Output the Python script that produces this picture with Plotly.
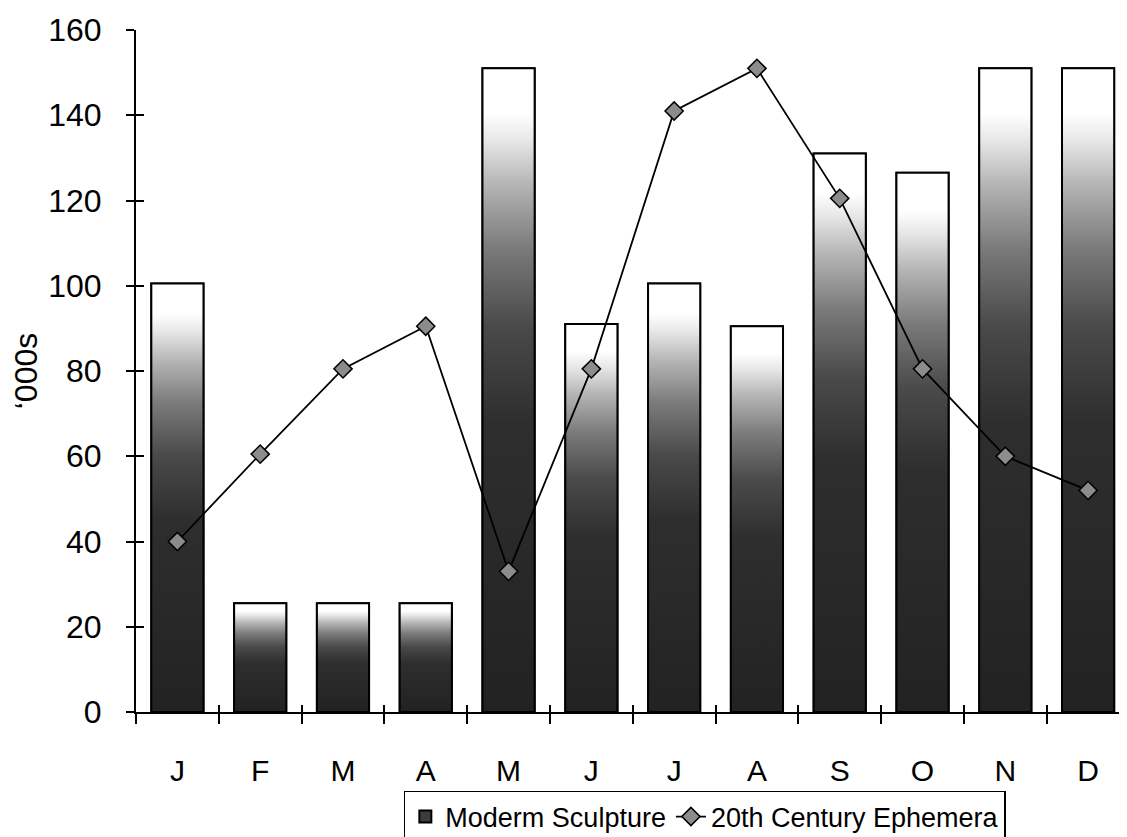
import plotly.graph_objects as go

months = ["J", "F", "M", "A", "M", "J", "J", "A", "S", "O", "N", "D"]
sculpture = [100.5, 25.5, 25.5, 25.5, 151, 91, 100.5, 90.5, 131, 126.5, 151, 151]
ephemera = [40, 60.5, 80.5, 90.5, 33, 80.5, 141, 151, 120.5, 80.5, 60, 52]
y_ticks = [0, 20, 40, 60, 80, 100, 120, 140, 160]

xpos = list(range(len(months)))
BAR_W = 0.63
FONT = "Liberation Sans, Arial, sans-serif"
grad = [[0.0, "#222222"], [0.45, "#2e2e2e"], [0.6, "#4a4a4a"], [0.72, "#7a7a7a"],
        [0.82, "#b5b5b5"], [0.89, "#e8e8e8"], [0.93, "#ffffff"], [1.0, "#ffffff"]]

fig = go.Figure()

# legend / base bar trace
fig.add_trace(go.Bar(
    x=xpos, y=sculpture, width=BAR_W, name="Moderm Sculpture",
    marker=dict(color="#3c3c3c", line=dict(color="black", width=2)),
))

# gradient overlay per bar
for xi, v in zip(xpos, sculpture):
    h = BAR_W / 2
    fig.add_trace(go.Scatter(
        x=[xi - h, xi + h, xi + h, xi - h, xi - h],
        y=[0, 0, v, v, 0],
        mode="lines", fill="toself",
        fillgradient=dict(type="vertical", colorscale=grad, start=0, stop=v),
        line=dict(color="black", width=2),
        showlegend=False, hoverinfo="skip",
    ))

fig.add_trace(go.Scatter(
    x=xpos, y=ephemera, name="20th Century Ephemera",
    mode="lines+markers",
    line=dict(color="black", width=1.8),
    marker=dict(symbol="diamond", size=14, color="#8c8c8c",
                line=dict(color="black", width=1.5)),
))

# invisible trace so the overlay tick axes render
fig.add_trace(go.Scatter(x=xpos, y=ephemera, xaxis="x2", yaxis="y2", mode="none",
                         showlegend=False, hoverinfo="skip"))

fig.update_layout(
    width=1119, height=837,
    margin=dict(l=128, r=0, t=22, b=133),
    paper_bgcolor="white", plot_bgcolor="white",
    font=dict(family=FONT, color="black", size=27),
    showlegend=True,
    legend=dict(orientation="h", x=0.574, xanchor="center", y=-0.1158, yanchor="top",
                bordercolor="black", borderwidth=1.5, bgcolor="white",
                font=dict(size=27), tracegroupgap=0),
    xaxis=dict(range=[-0.5, 11.47], tickmode="array", tickvals=xpos, ticktext=months,
               ticks="", showline=True, linecolor="black", linewidth=2,
               showgrid=False, zeroline=False, ticklabelstandoff=31,
               tickfont=dict(size=30), automargin=False,
               minor=dict(tick0=-0.5, dtick=1, ticks="outside", ticklen=10,
                          tickwidth=2, tickcolor="black", showgrid=False)),
    xaxis2=dict(range=[-0.5, 11.47], overlaying="x", side="bottom", showticklabels=False,
                tickmode="array", tickvals=[i + 0.5 for i in xpos], ticks="inside",
                ticklen=7, tickwidth=2, tickcolor="black", showgrid=False,
                zeroline=False, showline=False, automargin=False),
    yaxis=dict(range=[0, 160], tickmode="array", tickvals=y_ticks, ticks="outside",
               ticklen=8, tickwidth=2, tickcolor="black", showline=True,
               linecolor="black", linewidth=2, showgrid=False, zeroline=False,
               ticklabelstandoff=18, tickfont=dict(size=32), automargin=False,
               title=dict(text="‘000s", font=dict(size=32), standoff=15)),
    yaxis2=dict(range=[0, 160], overlaying="y", side="left", showticklabels=False,
                tickmode="array", tickvals=y_ticks, ticks="inside", ticklen=8,
                tickwidth=2, tickcolor="black", showgrid=False, zeroline=False,
                showline=False, automargin=False),
)

fig.write_html("out.html")
